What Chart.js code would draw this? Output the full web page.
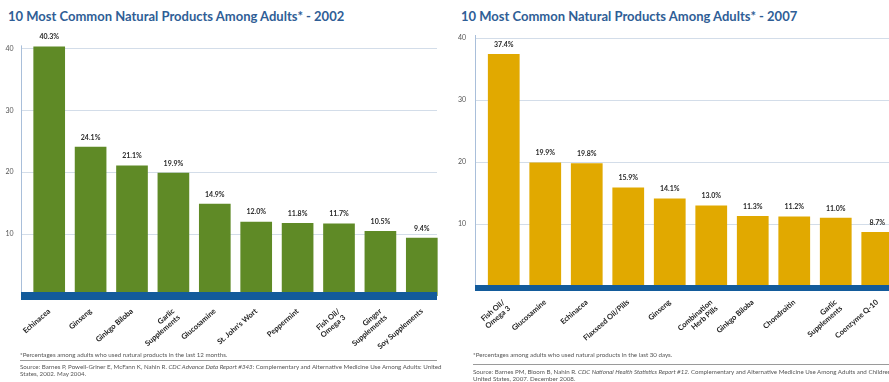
<!DOCTYPE html>
<html>
<head>
<meta charset="utf-8">
<script src="https://cdn.jsdelivr.net/npm/chart.js@4/dist/chart.umd.min.js"></script>
<style>
  html, body { margin: 0; padding: 0; background: #fff; overflow: hidden; }
  body { width: 889px; height: 382px; position: relative; font-family: Lato, "Open Sans", sans-serif; }
  canvas { position: absolute; top: 0; }
  .title { position: absolute; top: 8px; font-weight: bold; font-size: 13px; line-height: 16px; color: #2f5e96; white-space: nowrap; }
  .note { position: absolute; font-size: 6.2px; line-height: 7px; color: #555; white-space: nowrap; }
  .rule { position: absolute; height: 1px; background: #9a9a9a; }
</style>
</head>
<body>
<div class="title" style="left:8px">10 Most Common Natural Products Among Adults* - 2002</div>
<div class="title" style="left:461px">10 Most Common Natural Products Among Adults* - 2007</div>
<canvas id="chart2002" width="445" height="382" style="left:0"></canvas>
<canvas id="chart2007" width="460" height="382" style="left:445px"></canvas>

<div class="note" style="left:20px; top:351px">*Percentages among adults who used natural products in the last 12 months.</div>
<div class="rule" style="left:20px; top:360px; width:417px"></div>
<div class="note" style="left:20px; top:363px">Source: Barnes P, Powell-Griner E, McFann K, Nahin R. <i>CDC Advance Data Report #343:</i> Complementary and Alternative Medicine Use Among Adults: United<br>States, 2002. May 2004.</div>

<div class="note" style="left:473px; top:351px">*Percentages among adults who used natural products in the last 30 days.</div>
<div class="rule" style="left:473px; top:364px; width:416px"></div>
<div class="note" style="left:473px; top:368px">Source: Barnes PM, Bloom B, Nahin R. <i>CDC National Health Statistics Report #12.</i> Complementary and Alternative Medicine Use Among Adults and Children:<br>United States, 2007. December 2008.</div>

<script>
const labels2002 = ["Echinacea", "Ginseng", "Ginkgo Biloba", ["Garlic", "Supplements"], "Glucosamine",
  "St. John's Wort", "Peppermint", ["Fish Oil/", "Omega 3"], ["Ginger", "Supplements"], "Soy Supplements"];
const values2002 = [40.3, 24.1, 21.1, 19.9, 14.9, 12.0, 11.8, 11.7, 10.5, 9.4];

const labels2007 = [["Fish Oil/", "Omega 3"], "Glucosamine", "Echinacea", "Flaxseed Oil/Pills", "Ginseng",
  ["Combination", "Herb Pills"], "Ginkgo Biloba", "Chondroitin", ["Garlic", "Supplements"], "Coenzyme Q-10"];
const values2007 = [37.4, 19.9, 19.8, 15.9, 14.1, 13.0, 11.3, 11.2, 11.0, 8.7];

const yTicks = [10, 20, 30, 40];

Chart.defaults.font.family = "Lato, 'Open Sans', sans-serif";

// grid, axis line, baseline band and value labels
const decor = {
  id: "decor",
  beforeDatasetsDraw(chart, args, opts) {
    const ctx = chart.ctx, a = chart.chartArea, y = chart.scales.y;
    const axisX = a.left - opts.axisGap;
    ctx.save();
    ctx.strokeStyle = "#d3dde9";
    ctx.lineWidth = 1;
    y.ticks.forEach(t => {
      const py = Math.round(y.getPixelForValue(t.value)) + 0.5;
      ctx.beginPath();
      ctx.moveTo(axisX, py);
      ctx.lineTo(opts.gridRight, py);
      ctx.stroke();
    });
    ctx.strokeStyle = "#a9bfda";
    ctx.beginPath();
    ctx.moveTo(axisX + 0.5, y.getPixelForValue(40) - 3);
    ctx.lineTo(axisX + 0.5, y.getPixelForValue(0));
    ctx.stroke();
    ctx.restore();
  },
  afterDatasetsDraw(chart, args, opts) {
    const ctx = chart.ctx, a = chart.chartArea, y = chart.scales.y;
    const zero = y.getPixelForValue(0);
    const axisX = a.left - opts.axisGap;
    ctx.save();
    ctx.fillStyle = "#135b9b";
    ctx.fillRect(axisX, zero + opts.bandTop, opts.gridRight - axisX, opts.bandHeight);
    ctx.fillStyle = "#2a2a2a";
    ctx.font = "bold 7px Lato, 'Open Sans', sans-serif";
    ctx.textAlign = "center";
    ctx.textBaseline = "bottom";
    const data = chart.data.datasets[0].data;
    chart.getDatasetMeta(0).data.forEach((bar, i) => {
      ctx.fillText(data[i].toFixed(1) + "%", bar.x, bar.y - 6);
    });
    ctx.restore();
  }
};

function makeChart(id, labels, values, color, o) {
  new Chart(document.getElementById(id), {
    type: "bar",
    data: {
      labels: labels,
      datasets: [{ data: values, backgroundColor: color, categoryPercentage: 1, barPercentage: 0.765 }]
    },
    options: {
      responsive: false,
      animation: false,
      devicePixelRatio: 1,
      layout: { padding: { top: o.top, right: o.right, left: 0, bottom: 0 } },
      plugins: {
        legend: { display: false },
        tooltip: { enabled: false },
        decor: o
      },
      scales: {
        x: {
          grid: { display: false, drawTicks: false },
          border: { display: false },
          ticks: {
            autoSkip: false, minRotation: 41, maxRotation: 41, padding: o.labelPad,
            color: "#222", font: { size: 7.5, weight: "bold", lineHeight: 1.1 }
          },
          afterFit: s => { s.height = o.xHeight; }
        },
        y: {
          min: 0, max: o.max,
          grid: { display: false, drawTicks: false },
          border: { display: false },
          afterBuildTicks: s => { s.ticks = yTicks.map(v => ({ value: v })); },
          ticks: { padding: o.tickPad, color: "#555", font: { size: 7 } },
          afterFit: s => { s.width = o.yWidth; }
        }
      }
    },
    plugins: [decor]
  });
}

makeChart("chart2002", labels2002, values2002, "#5f8a26", {
  top: 36, right: 2.5, max: 42, yWidth: 28.5, xHeight: 86, tickPad: 15, labelPad: 11,
  axisGap: 7.5, gridRight: 437, bandTop: -4, bandHeight: 8
});
makeChart("chart2007", labels2007, values2007, "#e1a900", {
  top: 38, right: 7, max: 40, yWidth: 38, xHeight: 96, tickPad: 17, labelPad: 12,
  axisGap: 8, gridRight: 460, bandTop: -1, bandHeight: 6
});
</script>
</body>
</html>
